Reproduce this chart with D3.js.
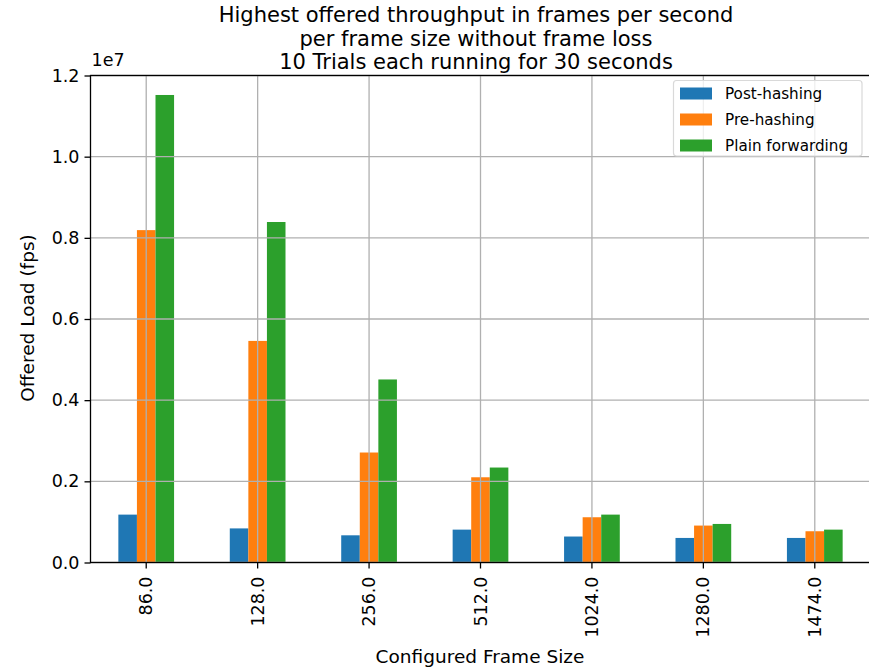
<!DOCTYPE html>
<html>
<head>
<meta charset="utf-8">
<script src="https://cdn.jsdelivr.net/npm/d3@7"></script>
<style>
  html, body { margin: 0; padding: 0; background: #fff; }
  svg { display: block; font-family: "DejaVu Sans", sans-serif; }
</style>
</head>
<body>
<svg id="chart" width="869" height="668"></svg>
<script>
const categories = ["86.0", "128.0", "256.0", "512.0", "1024.0", "1280.0", "1474.0"];
const seriesNames = ["Post-hashing", "Pre-hashing", "Plain forwarding"];
const postHashing = [1180000, 840000, 670000, 810000, 640000, 605000, 605000];
const preHashing = [8190000, 5460000, 2710000, 2100000, 1115000, 910000, 770000];
const plainForwarding = [11520000, 8390000, 4510000, 2340000, 1180000, 950000, 810000];
const yTicks = [0, 2e6, 4e6, 6e6, 8e6, 1e7, 1.2e7];
const colors = ["#1f77b4", "#ff7f0e", "#2ca02c"];
const titleLines = ["Highest offered throughput in frames per second", "per frame size without frame loss", "10 Trials each running for 30 seconds"];

const series = [postHashing, preHashing, plainForwarding];

const svg = d3.select("#chart");
const L = 90.5, R = 870.5, T = 75.5, B = 562.5;

const x = d3.scaleBand().domain(categories).range([L, R]).paddingInner(0).paddingOuter(0);
const y = d3.scaleLinear().domain([0, 1.2e7]).range([B, T]);
const barW = x.bandwidth() * 0.5 / 3;

// bars
series.forEach((vals, si) => {
  svg.append("g").selectAll("rect").data(vals).enter().append("rect")
    .attr("x", (d, i) => x(categories[i]) + x.bandwidth() / 2 + (si - 1.5) * barW)
    .attr("y", d => y(d))
    .attr("width", barW)
    .attr("height", d => B - y(d))
    .attr("fill", colors[si]);
});

// grid (drawn above bars)
const grid = svg.append("g").attr("stroke", "#b0b0b0").attr("stroke-width", 1.3);
yTicks.forEach(t => {
  grid.append("line").attr("x1", L).attr("x2", R).attr("y1", y(t)).attr("y2", y(t));
});
categories.forEach(c => {
  const cx = x(c) + x.bandwidth() / 2;
  grid.append("line").attr("x1", cx).attr("x2", cx).attr("y1", T).attr("y2", B);
});

// axes
const yAxis = d3.axisLeft(y).tickValues(yTicks).tickSize(6).tickPadding(5)
  .tickFormat(d => (d / 1e7).toFixed(1));
const gy = svg.append("g").attr("transform", `translate(${L},0)`).call(yAxis);
gy.select(".domain").remove();
gy.selectAll("line").attr("stroke", "#000").attr("stroke-width", 1.3);
gy.selectAll("text").attr("font-size", "17.5px").attr("fill", "#000")
  .attr("font-family", "DejaVu Sans");

const xAxis = d3.axisBottom(x).tickSize(6).tickPadding(5);
const gx = svg.append("g").attr("transform", `translate(0,${B})`).call(xAxis);
gx.select(".domain").remove();
gx.selectAll("line").attr("stroke", "#000").attr("stroke-width", 1.3);
gx.selectAll("text").attr("font-size", "17.5px").attr("fill", "#000")
  .attr("font-family", "DejaVu Sans")
  .attr("text-anchor", "end")
  .attr("dy", "0.35em")
  .attr("transform", "rotate(-90)")
  .attr("x", -14).attr("y", 0);

// spines
svg.append("rect").attr("x", L).attr("y", T).attr("width", R - L).attr("height", B - T)
  .attr("fill", "none").attr("stroke", "#000").attr("stroke-width", 1.3);

// offset text
svg.append("text").attr("x", L + 1).attr("y", 66).attr("font-size", "17.5px").text("1e7");

// axis labels
svg.append("text").attr("transform", `translate(34,${(T + B) / 2 - 1}) rotate(-90)`)
  .attr("text-anchor", "middle").attr("font-size", "18.5px").text("Offered Load (fps)");
svg.append("text").attr("x", 480).attr("y", 663).attr("text-anchor", "middle")
  .attr("font-size", "18.5px").text("Configured Frame Size");

// title
titleLines.forEach((t, i) => {
  svg.append("text").attr("x", 476).attr("y", 22 + i * 23.5).attr("text-anchor", "middle")
    .attr("font-size", "21px").text(t);
});

// legend
const lg = svg.append("g");
lg.append("rect").attr("x", 673.5).attr("y", 80.5).attr("width", 188.5).attr("height", 75.5)
  .attr("rx", 3).attr("fill", "#fff").attr("fill-opacity", 0.8)
  .attr("stroke", "#d9d9d9").attr("stroke-width", 1.2);
seriesNames.forEach((n, i) => {
  const cy = 93.5 + i * 26;
  lg.append("rect").attr("x", 680).attr("y", cy - 6).attr("width", 32).attr("height", 12)
    .attr("fill", colors[i]);
  lg.append("text").attr("x", 725).attr("y", cy).attr("dy", "0.35em")
    .attr("font-size", "15.2px").text(n);
});
</script>
</body>
</html>
